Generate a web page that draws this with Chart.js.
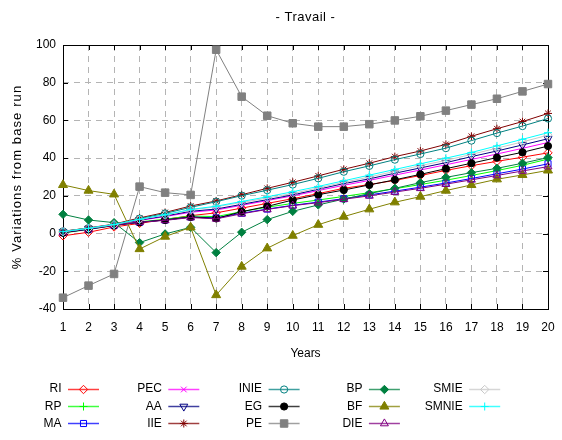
<!DOCTYPE html>
<html><head><meta charset="utf-8">
<script src="https://cdn.jsdelivr.net/npm/chart.js@4/dist/chart.umd.min.js"></script>
<style>html,body{margin:0;padding:0;background:#fff}</style>
</head><body>
<canvas id="c" width="562" height="440"></canvas>
<script>
// ---- data ----
const years = ['1','2','3','4','5','6','7','8','9','10','11','12','13','14','15','16','17','18','19','20'];
const yTicks = [-40, -20, 0, 20, 40, 60, 80, 100];
const chartTitle = '- Travail -';
const xTitle = 'Years';
const yTitle = '% Variations from base run';

const RI    = [-1.2, 0.7, 3.5, 5.4, 7.5, 9.5, 11.0, 13.5, 16.0, 18.5, 21.2, 24.0, 26.0, 28.2, 30.8, 33.5, 36.0, 38.3, 40.5, 42.8];
const RP    = [0.3, 2.2, 4.2, 6.2, 7.6, 9.3, 9.0, 11.6, 14.0, 16.0, 17.8, 19.7, 21.7, 23.8, 26.0, 28.3, 30.8, 33.4, 36.2, 39.5];
const MA    = [0.5, 2.3, 4.3, 6.0, 7.2, 8.8, 8.3, 10.8, 13.0, 15.0, 16.7, 18.5, 20.5, 22.5, 24.6, 26.8, 29.2, 31.7, 34.2, 37.0];
const PEC   = [0.8, 2.6, 4.5, 7.0, 9.0, 11.3, 12.5, 15.0, 17.5, 20.0, 22.8, 25.6, 28.2, 31.0, 33.7, 36.5, 39.3, 42.2, 45.2, 48.3];
const AA    = [0.8, 2.6, 4.6, 7.2, 9.3, 11.8, 13.0, 15.5, 18.0, 20.5, 23.5, 26.5, 29.0, 32.0, 34.8, 37.6, 40.8, 43.8, 47.0, 50.3];
const IIE   = [1.2, 3.0, 5.0, 8.3, 11.2, 14.6, 17.3, 20.6, 24.0, 27.2, 30.6, 34.1, 37.3, 40.8, 43.8, 47.3, 51.6, 55.6, 59.4, 63.7];
const INIE  = [1.2, 2.9, 4.8, 7.9, 10.7, 13.9, 16.9, 20.1, 23.0, 26.0, 29.3, 32.8, 35.9, 39.2, 42.2, 45.3, 49.3, 53.3, 57.0, 61.0];
const EG    = [0.5, 2.4, 4.4, 6.0, 7.2, 8.8, 8.0, 11.6, 14.4, 17.8, 20.6, 23.1, 25.8, 28.5, 31.4, 34.4, 37.3, 40.3, 43.1, 46.4];
const PE    = [-34.0, -27.6, -21.4, 24.9, 21.7, 20.5, 97.5, 72.6, 62.5, 58.5, 56.7, 56.7, 58.0, 60.0, 62.2, 65.2, 68.4, 71.5, 75.4, 79.3];
const BP    = [10.2, 7.2, 5.8, -4.8, -0.2, 3.3, -10.1, 0.7, 7.4, 11.8, 15.2, 18.3, 21.2, 24.0, 27.0, 29.8, 32.3, 34.6, 37.3, 40.3];
const BF    = [25.8, 22.8, 20.8, -8.2, -1.6, 3.3, -32.6, -17.5, -7.8, -1.1, 4.7, 9.0, 12.9, 16.6, 19.6, 22.8, 25.8, 28.8, 31.1, 33.5];
const DIE   = [0.8, 2.5, 4.5, 6.0, 7.0, 8.5, 7.8, 10.5, 12.8, 14.8, 16.4, 18.2, 20.0, 22.0, 24.0, 26.2, 28.5, 30.8, 33.2, 35.5];
const SMIE  = [1.0, 2.8, 4.7, 7.5, 9.8, 12.5, 14.2, 16.5, 18.8, 21.3, 24.2, 27.2, 30.0, 33.0, 36.0, 38.8, 42.0, 45.3, 48.6, 52.2];
const SMNIE = [1.0, 2.8, 4.8, 7.6, 10.0, 12.8, 14.5, 17.0, 19.5, 22.2, 25.0, 28.0, 31.0, 34.0, 37.0, 40.0, 43.0, 46.5, 50.0, 53.5];

const seriesNames = ['RI','RP','MA','PEC','AA','IIE','INIE','EG','PE','BP','BF','DIE','SMIE','SMNIE'];
const seriesValues = [RI, RP, MA, PEC, AA, IIE, INIE, EG, PE, BP, BF, DIE, SMIE, SMNIE];

// ---- styles ----
const styles = {
  RI:    {color:'#ff0000', point:'rectRot',  r:4.2, fill:false},
  RP:    {color:'#00ff00', point:'cross',    r:4.0, fill:false},
  MA:    {color:'#0000ff', point:'rect',     r:4.3, fill:false},
  PEC:   {color:'#ff00ff', point:'crossRot', r:4.0, fill:false},
  AA:    {color:'#000080', point:'triangle', r:4.6, fill:false, rot:180},
  IIE:   {color:'#800000', point:'star',     r:4.0, fill:false},
  INIE:  {color:'#008080', point:'circle',   r:3.6, fill:false},
  EG:    {color:'#000000', point:'circle',   r:3.6, fill:true},
  PE:    {color:'#808080', point:'rect',     r:5.3, fill:true},
  BP:    {color:'#008040', point:'rectRot',  r:4.2, fill:true},
  BF:    {color:'#808000', point:'triangle', r:5.2, fill:true},
  DIE:   {color:'#800080', point:'triangle', r:4.6, fill:false},
  SMIE:  {color:'#c8c8c8', point:'rectRot',  r:4.2, fill:false},
  SMNIE: {color:'#00ffff', point:'cross',    r:4.0, fill:false}
};
const FONT = 'Liberation Sans, Arial, Helvetica, sans-serif';

const datasets = seriesNames.map((name, i) => {
  const s = styles[name];
  return {
    label: name,
    data: seriesValues[i],
    borderColor: s.color,
    backgroundColor: s.color,
    borderWidth: 1,
    pointStyle: s.point,
    pointRadius: s.r,
    pointRotation: s.rot || 0,
    pointBorderColor: s.color,
    pointBackgroundColor: s.fill ? s.color : 'rgba(0,0,0,0)',
    pointBorderWidth: 1,
    fill: false,
    tension: 0,
    clip: false,
    order: seriesNames.length - i
  };
});

const deco = {
  id: 'deco',
  beforeDatasetsDraw(chart) {
    const {ctx, chartArea: a, scales} = chart;
    ctx.save();
    ctx.strokeStyle = '#000';
    ctx.lineWidth = 1;
    ctx.setLineDash([]);
    ctx.beginPath();
    const tl = 5;
    scales.x.ticks.forEach((t, i) => {
      const x = Math.round(scales.x.getPixelForTick(i)) + 0.5;
      ctx.moveTo(x, a.bottom); ctx.lineTo(x, a.bottom - tl);
      ctx.moveTo(x, a.top); ctx.lineTo(x, a.top + tl);
    });
    scales.y.ticks.forEach((t, i) => {
      const y = Math.round(scales.y.getPixelForTick(i)) + 0.5;
      ctx.moveTo(a.left, y); ctx.lineTo(a.left + tl, y);
      ctx.moveTo(a.right, y); ctx.lineTo(a.right - tl, y);
    });
    ctx.stroke();
    ctx.strokeRect(Math.round(a.left) + 0.5, Math.round(a.top) + 0.5,
                   Math.round(a.right - a.left), Math.round(a.bottom - a.top));
    ctx.restore();
  },
  afterDraw(chart) {
    const {ctx, chartArea: a} = chart;
    ctx.save();
    ctx.fillStyle = '#000';
    ctx.textBaseline = 'middle';
    // title
    ctx.font = '13px ' + FONT;
    ctx.textAlign = 'center';
    try { ctx.letterSpacing = '0.5px'; } catch (e) {}
    ctx.fillText(chartTitle, (a.left + a.right) / 2, 17);
    // y axis title
    ctx.save();
    try { ctx.letterSpacing = '1.1px'; } catch (e) {}
    ctx.translate(17, (a.top + a.bottom) / 2);
    ctx.rotate(-Math.PI / 2);
    ctx.fillText(yTitle, 0, 0);
    ctx.restore();
    try { ctx.letterSpacing = '0px'; } catch (e) {}
    // legend
    ctx.font = '12px ' + FONT;
    chart.data.datasets.forEach((ds, i) => {
      const col = Math.floor(i / 3), row = i % 3;
      const xr = 61.5 + 100.3 * col;
      const y = 389 + 17.2 * row;
      ctx.fillStyle = '#000';
      ctx.textAlign = 'right';
      ctx.fillText(ds.label, xr, y);
      ctx.strokeStyle = ds.borderColor;
      ctx.lineWidth = 1.5;
      ctx.globalAlpha = 0.75;
      ctx.beginPath();
      ctx.moveTo(xr + 6.5, Math.round(y) + 0.5);
      ctx.lineTo(xr + 37.5, Math.round(y) + 0.5);
      ctx.stroke();
      ctx.globalAlpha = 1;
      ctx.lineWidth = 1;
      ctx.strokeStyle = ds.pointBorderColor;
      ctx.fillStyle = ds.pointBackgroundColor;
      if (Chart.helpers && Chart.helpers.drawPoint) {
        Chart.helpers.drawPoint(ctx, {pointStyle: ds.pointStyle, radius: ds.pointRadius,
          rotation: ds.pointRotation, borderWidth: 1}, xr + 22, Math.round(y) + 0.5);
      }
    });
    ctx.restore();
  }
};

const axisFont = {family: FONT, size: 12};
new Chart(document.getElementById('c'), {
  type: 'line',
  data: {labels: years, datasets},
  options: {
    responsive: false,
    animation: false,
    devicePixelRatio: 1,
    layout: {padding: {top: 45, right: 14, bottom: 71, left: 0}},
    plugins: {legend: {display: false}, tooltip: {enabled: false}, title: {display: false}},
    scales: {
      x: {
        type: 'category',
        offset: false,
        grid: {color: '#b4b4b4', lineWidth: 1, drawTicks: true, tickLength: 8, tickColor: 'rgba(0,0,0,0)'},
        border: {display: false, dash: [6, 5]},
        ticks: {color: '#000', font: axisFont, padding: 3, autoSkip: false, maxRotation: 0},
        title: {display: true, text: xTitle, color: '#000', font: axisFont, padding: {top: 0, bottom: 8}},
        afterFit: s => { s.height = 60; }
      },
      y: {
        min: -40, max: 100,
        afterBuildTicks: s => { s.ticks = yTicks.map(v => ({value: v})); },
        grid: {color: '#b4b4b4', lineWidth: 1, drawTicks: false},
        border: {display: false, dash: [6, 5]},
        ticks: {color: '#000', font: axisFont, padding: 7},
        title: {display: false, text: yTitle},
        afterFit: s => { s.width = 63; }
      }
    }
  },
  plugins: [deco]
});
</script>
</body></html>
